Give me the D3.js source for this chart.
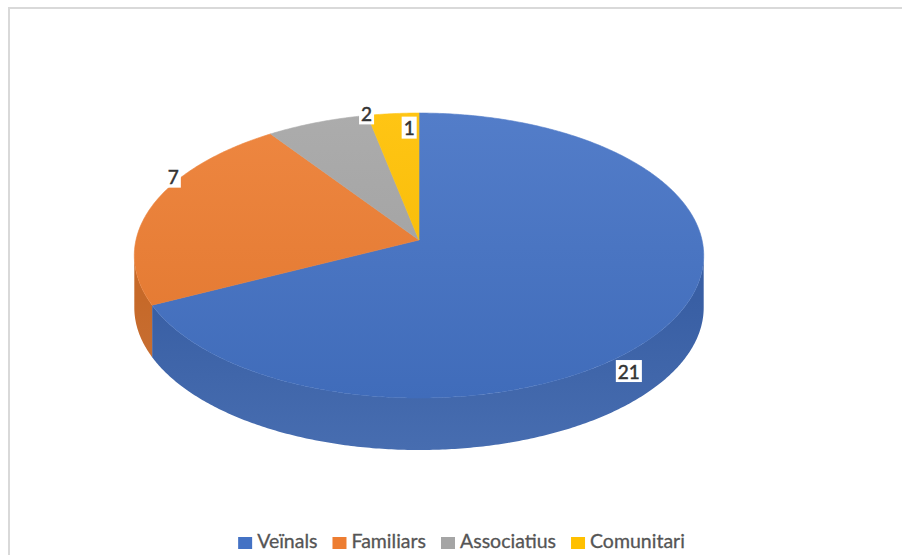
<!DOCTYPE html>
<html>
<head>
<meta charset="utf-8">
<script src="https://cdn.jsdelivr.net/npm/d3@7"></script>
<style>
  html, body { margin: 0; padding: 0; background: #fff; }
  svg { display: block; }
</style>
</head>
<body>
<svg id="chart" width="902" height="555"></svg>
<script>
// ---- data ----
const categories = ["Veïnals", "Familiars", "Associatius", "Comunitari"];
const values = [21, 7, 2, 1];
const colors = ["#4472C4", "#ED7D31", "#A5A5A5", "#FFC000"];
// label nudges relative to the rim point at each slice's mid angle
const labelNudges = [[-45, 52], [21, -29], [49, -9], [16, 14]];

// ---- geometry ----
const W = 902, H = 555;
const cx = 419, cy = 240;     // apex of the pie on screen
const rx = 283, ry = 140.8;   // projected radii
const k = 0.109;              // perspective factor
const depth = 52;             // thickness of the pie

const svg = d3.select("#chart");

// frame (only top and left edges visible in the crop)
svg.append("line").attr("x1", 9).attr("y1", 8).attr("x2", W).attr("y2", 8)
  .attr("stroke", "#d9d9d9").attr("stroke-width", 2);
svg.append("line").attr("x1", 9).attr("y1", 7).attr("x2", 9).attr("y2", H)
  .attr("stroke", "#d9d9d9").attr("stroke-width", 2);

function proj(theta, r = 1) {
  const u = r * Math.sin(theta), v = -r * Math.cos(theta);
  const s = 1 / (1 - k * v);
  return [cx + rx * u * s, cy + ry * v * s];
}

const pie = d3.pie().sort(null).value(d => d);
const arcs = pie(values);

const defs = svg.append("defs");
arcs.forEach((a, i) => {
  const c = d3.color(colors[i]);
  const gTop = defs.append("linearGradient").attr("id", "top" + i)
    .attr("gradientUnits", "userSpaceOnUse")
    .attr("x1", 0).attr("y1", 113).attr("x2", 0).attr("y2", 398);
  gTop.append("stop").attr("offset", 0).attr("stop-color", d3.interpolateRgb(c, "#ffffff")(0.08));
  gTop.append("stop").attr("offset", 1).attr("stop-color", c.darker(0.15));
  const gSide = defs.append("linearGradient").attr("id", "side" + i)
    .attr("gradientUnits", "userSpaceOnUse")
    .attr("x1", 0).attr("y1", 300).attr("x2", 0).attr("y2", 450);
  gSide.append("stop").attr("offset", 0).attr("stop-color", c.darker(0.5));
  gSide.append("stop").attr("offset", 1).attr("stop-color", d3.interpolateRgb(c.darker(0.3), "#8090b0")(0.15));
});

const line = d3.line();
function sample(a0, a1) {
  const n = Math.max(2, Math.ceil((a1 - a0) / 0.01));
  return d3.range(n + 1).map(j => a0 + (a1 - a0) * j / n);
}

// side walls (visible front part only)
const vis0 = Math.acos(-k), vis1 = 2 * Math.PI - Math.acos(-k);
const sideG = svg.append("g");
arcs.forEach((a, i) => {
  const a0 = Math.max(a.startAngle, vis0), a1 = Math.min(a.endAngle, vis1);
  if (a1 <= a0) return;
  const ts = sample(a0, a1);
  const topPts = ts.map(t => proj(t));
  const botPts = ts.slice().reverse().map(t => { const p = proj(t); return [p[0], p[1] + depth]; });
  sideG.append("path").attr("d", line(topPts.concat(botPts)) + "Z")
    .attr("fill", `url(#side${i})`);
});

// top faces
const topG = svg.append("g");
arcs.forEach((a, i) => {
  const pts = [[cx, cy]].concat(sample(a.startAngle, a.endAngle).map(t => proj(t)));
  topG.append("path").attr("d", line(pts) + "Z")
    .attr("fill", `url(#top${i})`)
    .attr("stroke", `url(#top${i})`).attr("stroke-width", 0.6);
});

// data labels
const labG = svg.append("g");
arcs.forEach((a, i) => {
  const mid = (a.startAngle + a.endAngle) / 2;
  const p = proj(mid);
  const x = p[0] + labelNudges[i][0], y = p[1] + labelNudges[i][1];
  const g = labG.append("g");
  const t = g.append("text").attr("x", x).attr("y", y)
    .attr("text-anchor", "middle").attr("dominant-baseline", "central")
    .attr("font-family", "Lato, 'Open Sans', sans-serif").attr("font-size", 19)
    .attr("fill", "#333").attr("stroke", "#333").attr("stroke-width", 0.5)
    .text(values[i]);
  const bb = t.node().getBBox();
  g.insert("rect", "text").attr("x", bb.x - 2).attr("y", y - 11)
    .attr("width", bb.width + 4).attr("height", 22).attr("fill", "#fff");
});

// legend
const legend = svg.append("g");
const legendY = 540;
const fontSize = 19.5;
const sq = 14;
let items = categories.map((c, i) => {
  const g = legend.append("g");
  g.append("rect").attr("y", legendY - 3).attr("width", sq).attr("height", 12).attr("fill", colors[i]);
  const t = g.append("text").attr("y", legendY).attr("dominant-baseline", "central")
    .attr("font-family", "Lato, 'Open Sans', sans-serif").attr("font-size", fontSize)
    .attr("fill", "#555").attr("stroke", "#555").attr("stroke-width", 0.3).text(c);
  return { g, t, w: t.node().getComputedTextLength() };
});
const gapSq = 5, gapItem = 15;
const total = d3.sum(items, d => sq + gapSq + d.w) + gapItem * (items.length - 1);
let x0 = 461.5 - total / 2;
items.forEach(d => {
  d.g.select("rect").attr("x", x0);
  d.t.attr("x", x0 + sq + gapSq);
  x0 += sq + gapSq + d.w + gapItem;
});
</script>
</body>
</html>
